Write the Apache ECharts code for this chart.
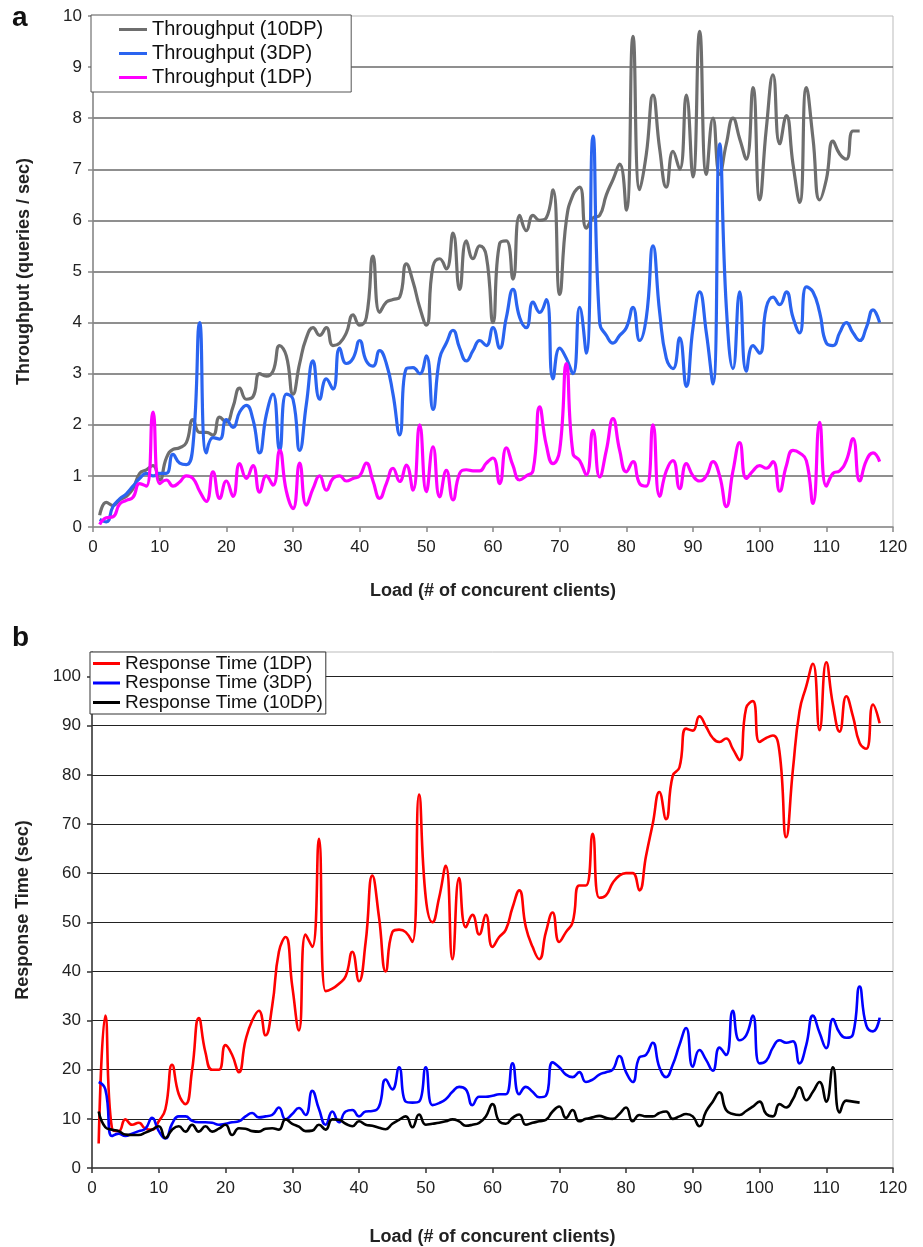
<!DOCTYPE html>
<html><head><meta charset="utf-8">
<script src="https://cdn.jsdelivr.net/npm/echarts@6/dist/echarts.min.js"></script>
<style>html,body{margin:0;padding:0;background:#fff}#c{width:923px;height:1247px}</style>
</head><body><div id="c"></div>
<script>
// Panel a: throughput (queries/sec) by load (clients 1..N)
const thr10DP = [0.23,0.48,0.42,0.53,0.6,0.75,1.05,1.12,1.2,0.92,
1.35,1.52,1.55,1.65,2.1,1.85,1.85,1.8,2.15,2.05,
2.35,2.72,2.5,2.55,3.0,2.95,3.05,3.55,3.35,2.6,
3.2,3.7,3.9,3.75,3.9,3.55,3.6,3.8,4.15,3.95,
4.1,5.3,4.2,4.4,4.45,4.5,5.15,4.8,4.3,3.95,
5.1,5.25,5.05,5.75,4.65,5.6,5.25,5.5,5.3,4.0,
5.55,5.6,4.85,6.1,5.8,6.1,6.0,6.05,6.6,4.55,
6.0,6.5,6.65,5.85,6.05,6.1,6.5,6.8,7.1,6.2,
9.6,6.6,7.3,8.45,7.4,6.65,7.35,7.0,8.45,6.85,
9.7,6.9,8.0,6.9,7.5,8.0,7.6,7.2,8.6,6.4,
7.8,8.85,7.5,8.05,7.1,6.35,8.6,7.6,6.4,6.8,
7.55,7.3,7.2,7.75,7.75];
const thr3DP = [0.15,0.1,0.4,0.55,0.65,0.8,0.95,1.05,1.0,1.05,
1.05,1.42,1.25,1.22,1.6,4.0,1.45,1.75,1.72,2.1,
1.95,2.25,2.38,2.1,1.45,2.2,2.6,1.5,2.6,2.5,
1.5,2.4,3.25,2.5,2.9,2.7,3.5,3.2,3.3,3.65,
3.25,3.15,3.45,3.2,2.6,1.8,3.1,3.12,3.0,3.35,
2.3,3.3,3.6,3.85,3.5,3.25,3.45,3.65,3.55,3.9,
3.5,4.1,4.65,4.1,3.9,4.4,4.2,4.45,2.9,3.5,
3.3,3.0,4.3,3.4,7.65,4.0,3.75,3.6,3.75,3.9,
4.3,3.65,4.1,5.5,4.2,3.3,3.1,3.7,2.75,3.9,
4.6,3.8,2.8,7.5,4.3,3.1,4.6,3.05,3.55,3.4,
4.3,4.5,4.35,4.6,4.1,3.8,4.7,4.6,4.2,3.6,
3.55,3.8,4.0,3.8,3.65,3.9,4.25,4.0];
const thr1DP = [0.05,0.18,0.2,0.45,0.52,0.58,0.85,0.8,2.25,0.85,
0.92,0.8,0.88,1.0,0.95,0.7,0.5,1.08,0.56,0.9,
0.6,1.24,0.95,1.2,0.68,1.0,0.82,1.5,0.7,0.36,
1.25,0.43,0.75,1.0,0.72,0.95,1.0,0.9,0.95,1.0,
1.25,0.9,0.56,0.85,1.15,0.89,1.21,0.72,2.0,0.69,
1.57,0.59,1.11,0.53,1.05,1.12,1.1,1.1,1.25,1.35,
0.85,1.55,1.2,0.92,1.0,1.1,2.35,1.6,1.24,1.5,
3.2,1.44,1.3,1.02,1.89,0.98,1.5,2.12,1.5,1.08,
1.28,0.85,0.8,2.0,0.6,1.1,1.3,0.75,1.24,1.0,
0.9,1.0,1.28,1.0,0.4,1.1,1.65,0.95,1.1,1.2,
1.15,1.28,0.7,1.2,1.5,1.45,1.3,0.46,2.05,0.8,
1.05,1.1,1.3,1.73,0.9,1.3,1.45,1.28];
// Panel b: response time (sec)
const rt1DP = [5,31,8,7.5,9.9,8.8,9.2,8,7.8,9.5,
12,21,15,13,20,30.5,23.5,20,20,25,
23,19.5,26,30,32,27,33,44,47,37,
28,47.5,45,67,36,36.5,37.5,39,44,38,
46,59.5,51,40,48,48.5,48,46,76,55,
50,55,61.5,42.5,59,49,51.5,47.5,51.5,45,
47,48.5,53,56.5,49,45,42.5,48,52,46,
48,50,57.5,57.5,68,55,55.5,58,59.5,60,
60,56.5,63.5,70,76.5,71,79.8,81.5,89.4,89,
91.9,89.8,87.5,86.7,87.4,85.3,83,93.6,95,86.7,
87.5,88,84.6,67.3,81,93,98,102.6,89.1,102.9,
94.3,88.8,96,91.9,86.5,85.3,94.3,90.5];
const rt3DP = [17.5,16,6.5,7,6.5,7,7.5,8,10.2,7.5,
6,9,10.5,10.5,9.6,9.3,9.3,9.2,8.8,9,
9.3,9.5,10.5,11.2,10.3,10.5,10.8,12.3,9.9,11,
12.2,10.8,15.7,12,8.8,11.5,9.3,11.5,11.8,10.5,
11.5,11.6,12.5,18,16,20.5,13.5,13.3,13.5,20.5,
12.8,13.2,14,15.5,16.5,16,12.8,14.5,14.5,14.7,
15,15,21.3,15,16.5,15.5,14.4,14.7,21.5,20.5,
19,18.5,19.5,17.5,18,19,19.5,20,22.8,19.5,
17.5,22.5,23,25.5,20.5,18.5,21,25,28.5,20.6,
24,22,19.8,24.5,23,32,26,27,31,21.3,
21.8,24.5,26,25.5,25.8,21.3,25,31,27.5,24.4,
30.3,27.5,26.5,27.2,36.9,29,27.8,30.6];
const rt10DP = [11.5,8.3,7.8,7.5,6.8,6.7,6.7,7.2,7.8,8.5,
6.1,7.8,8.5,7.4,8.8,7.4,8.5,7.4,8,8.8,
6.7,8.1,8,7.5,7.4,8,8.1,7.8,9.9,9,
8.4,7.5,7.6,8.8,7.8,9.9,9.8,9,8.5,9.5,
8.8,8.6,8.2,7.9,9,9.8,10.5,8.3,10.9,8.8,
9,9.2,9.5,9.9,9.5,8.6,8.8,9.2,10.5,13,
9.5,9,10.2,10.9,8.8,9.2,9.5,9.8,11.5,12.5,
10.2,11.8,9.5,10,10.3,10.6,10.2,10,11,12.3,
9.5,10.8,10.5,10.5,11.2,11.5,10,10.5,11,10.5,
8.5,11.5,13.5,15.4,11.8,11,10.8,11.6,12.5,13.5,
11,10.5,13,12.3,14,16.4,13.8,15.5,17.5,13.5,
20.5,11.3,13.7,13.5,13.3];
const xTicksMax = 120;

const FONT = 'Liberation Sans, Arial, Helvetica, sans-serif';
const pts = arr => arr.map((v, i) => [i + 1, v]);
const SMOOTH = 0.5;

const chart = echarts.init(document.getElementById('c'), null, {renderer: 'canvas'});

function xAxisCfg(gi, axisColor, gap) {
  return {
    gridIndex: gi, type: 'value', min: 0, max: xTicksMax, interval: 10,
    axisLine: {show: true, onZero: false, lineStyle: {color: axisColor, width: 1.5}},
    axisTick: {show: true, length: 5, lineStyle: {color: axisColor, width: 1.5}},
    axisLabel: {fontSize: 17, color: '#222', fontFamily: FONT, margin: 12},
    splitLine: {show: false},
    name: 'Load (# of concurent clients)', nameLocation: 'middle', nameGap: gap,
    nameTextStyle: {fontSize: 18, fontWeight: 'bold', color: '#222', fontFamily: FONT}
  };
}

const option = {
  animation: false,
  backgroundColor: '#fff',
  textStyle: {fontFamily: FONT},
  grid: [
    {left: 93, right: 30, top: 16, height: 511, show: true, borderColor: '#bbb', borderWidth: 1, backgroundColor: '#fff'},
    {left: 92, right: 30, top: 652, height: 516, show: true, borderColor: '#bbb', borderWidth: 1, backgroundColor: '#fff'}
  ],
  xAxis: [xAxisCfg(0, '#888', 55), xAxisCfg(1, '#333', 60)],
  yAxis: [
    {gridIndex: 0, type: 'value', min: 0, max: 10, interval: 1,
     axisLine: {show: true, lineStyle: {color: '#888', width: 1.5}},
     axisTick: {show: true, length: 5, lineStyle: {color: '#888', width: 1.5}},
     axisLabel: {fontSize: 17, color: '#222', fontFamily: FONT, margin: 11},
     splitLine: {show: true, showMaxLine: false, showMinLine: false, lineStyle: {color: '#6a6a6a', width: 1.5}},
     name: 'Throughput (queries / sec)', nameLocation: 'middle', nameGap: 60, nameRotate: 90,
     nameTextStyle: {fontSize: 18, fontWeight: 'bold', color: '#222', fontFamily: FONT}},
    {gridIndex: 1, type: 'value', min: 0, max: 105, interval: 10,
     axisLine: {show: true, lineStyle: {color: '#333', width: 1.5}},
     axisTick: {show: true, length: 5, lineStyle: {color: '#333', width: 1.5}},
     axisLabel: {fontSize: 17, color: '#222', fontFamily: FONT, margin: 11, showMaxLabel: false},
     splitLine: {show: true, showMaxLine: false, showMinLine: false, lineStyle: {color: '#222', width: 1.2}},
     name: 'Response Time (sec)', nameLocation: 'middle', nameGap: 60, nameRotate: 90,
     nameTextStyle: {fontSize: 18, fontWeight: 'bold', color: '#222', fontFamily: FONT}}
  ],
  legend: [
    {data: ['Throughput (10DP)', 'Throughput (3DP)', 'Throughput (1DP)'],
     orient: 'vertical', left: 91, top: 15, padding: [3, 28, 3, 28], itemGap: 1,
     itemWidth: 28, itemHeight: 3, icon: 'rect', selectedMode: false,
     backgroundColor: '#fff', borderColor: '#555', borderWidth: 1, borderRadius: 0,
     textStyle: {fontSize: 20, color: '#111', fontFamily: FONT, lineHeight: 23}},
    {data: ['Response Time (1DP)', 'Response Time (3DP)', 'Response Time (10DP)'],
     orient: 'vertical', left: 90, top: 652, padding: [2, 3, 2, 3], itemGap: 0.5,
     itemWidth: 27, itemHeight: 3, icon: 'rect', selectedMode: false,
     backgroundColor: '#fff', borderColor: '#333', borderWidth: 1, borderRadius: 0,
     textStyle: {fontSize: 19, color: '#111', fontFamily: FONT, lineHeight: 18}}
  ],
  graphic: [
    {type: 'text', left: 12, top: 4, style: {text: 'a', font: 'bold 28px ' + FONT, fill: '#111'}},
    {type: 'text', left: 12, top: 624, style: {text: 'b', font: 'bold 28px ' + FONT, fill: '#111'}}
  ],
  series: [
    {name: 'Throughput (10DP)', type: 'line', xAxisIndex: 0, yAxisIndex: 0, data: pts(thr10DP), smooth: SMOOTH, showSymbol: false, symbol: 'none', color: '#6e6e6e', lineStyle: {width: 3.2}},
    {name: 'Throughput (3DP)', type: 'line', xAxisIndex: 0, yAxisIndex: 0, data: pts(thr3DP), smooth: SMOOTH, showSymbol: false, symbol: 'none', color: '#2a64f0', lineStyle: {width: 3.2}},
    {name: 'Throughput (1DP)', type: 'line', xAxisIndex: 0, yAxisIndex: 0, data: pts(thr1DP), smooth: SMOOTH, showSymbol: false, symbol: 'none', color: '#ff00ff', lineStyle: {width: 3.2}},
    {name: 'Response Time (1DP)', type: 'line', xAxisIndex: 1, yAxisIndex: 1, data: pts(rt1DP), smooth: SMOOTH, showSymbol: false, symbol: 'none', color: '#ff0000', lineStyle: {width: 2.6}},
    {name: 'Response Time (3DP)', type: 'line', xAxisIndex: 1, yAxisIndex: 1, data: pts(rt3DP), smooth: SMOOTH, showSymbol: false, symbol: 'none', color: '#0000ff', lineStyle: {width: 2.6}},
    {name: 'Response Time (10DP)', type: 'line', xAxisIndex: 1, yAxisIndex: 1, data: pts(rt10DP), smooth: SMOOTH, showSymbol: false, symbol: 'none', color: '#000000', lineStyle: {width: 2.6}}
  ]
};
chart.setOption(option);
</script></body></html>
